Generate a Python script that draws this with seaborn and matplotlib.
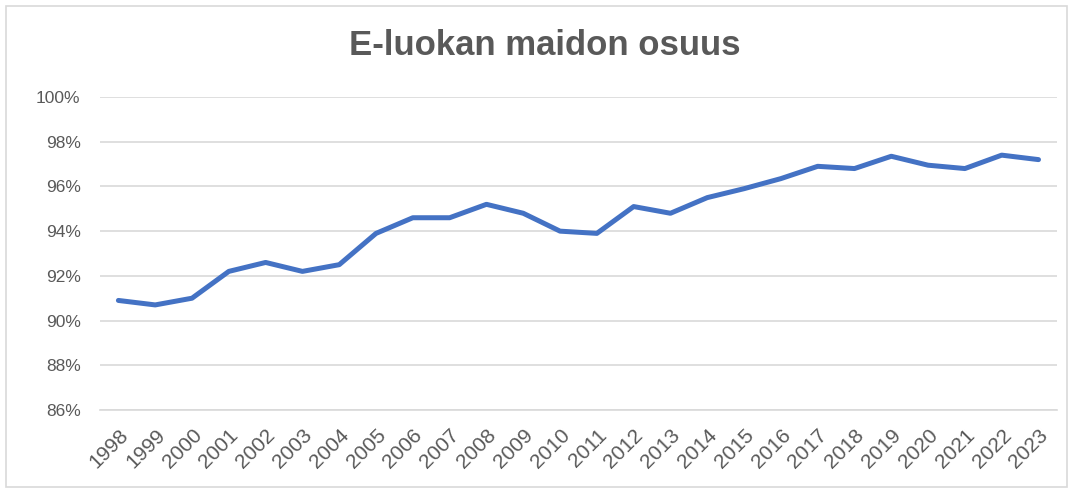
import matplotlib
matplotlib.use("Agg")
import matplotlib.pyplot as plt
import matplotlib.patches as mpatches
import seaborn as sns
import pandas as pd
import numpy as np

years = [str(y) for y in range(1998, 2024)]
share = [90.9, 90.7, 91.0, 92.2, 92.6, 92.2, 92.5, 93.9, 94.6, 94.6, 95.2, 94.8,
         94.0, 93.9, 95.1, 94.8, 95.5, 95.9, 96.35, 96.9, 96.8, 97.35, 96.95, 96.8,
         97.4, 97.2]
title = "E-luokan maidon osuus"
yticks = [86, 88, 90, 92, 94, 96, 98, 100]

sns.set_theme(style="white")
plt.rcParams['font.family'] = ['Liberation Sans', 'DejaVu Sans']

df = pd.DataFrame({"pos": np.arange(len(years)), "share": share})

fig = plt.figure(figsize=(10.73, 4.91), dpi=100)
ax = fig.add_axes([0.0932, 0.165, 0.985 - 0.0932, 0.8024 - 0.165])

sns.lineplot(data=df, x="pos", y="share", ax=ax, color="#4472C4", linewidth=3.6,
             solid_capstyle="round", solid_joinstyle="round")

ax.set_ylim(86, 100)
ax.set_yticks(yticks)
ax.set_yticklabels([f"{v}%" for v in yticks])
ax.set_xlim(-0.5, len(years) - 0.5)
ax.set_xticks(df["pos"])
ax.set_xticklabels(years, rotation=45, ha="right", rotation_mode="anchor")
ax.set_xlabel("")
ax.set_ylabel("")

ax.grid(axis="y", color="#d9d9d9", linewidth=1.2)
ax.grid(axis="x", visible=False)
ax.set_axisbelow(True)
for s in ["top", "right", "left"]:
    ax.spines[s].set_visible(False)
ax.spines["bottom"].set_color("#d9d9d9")
ax.spines["bottom"].set_linewidth(1.2)

ax.tick_params(axis="y", length=0, pad=14, labelsize=12.5, labelcolor="#595959")
ax.tick_params(axis="x", length=0, pad=11, labelsize=15, labelcolor="#595959")

fig.text(0.508, 0.907, title, ha="center", va="center", fontsize=25,
         fontweight="bold", color="#595959")

border = mpatches.Rectangle((6 / 1073, 4 / 491), 1 - 12 / 1073, 1 - 10 / 491,
                            transform=fig.transFigure, fill=False,
                            edgecolor="#d9d9d9", linewidth=1.2)
fig.patches.append(border)

fig.savefig("out.png", dpi=100, facecolor="white")
